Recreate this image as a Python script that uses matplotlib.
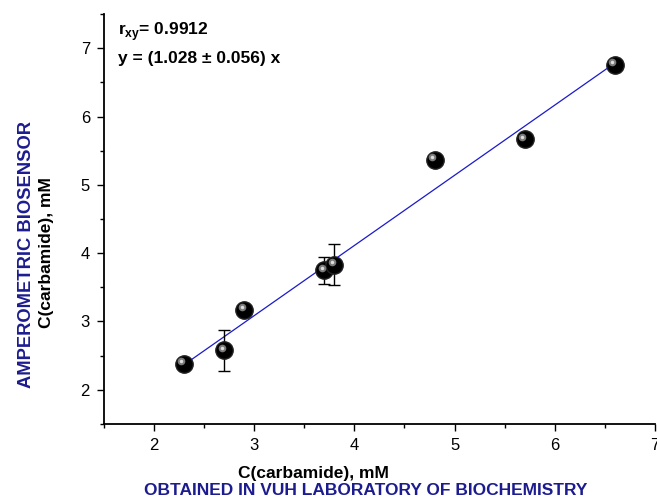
import matplotlib
matplotlib.use('Agg')
import matplotlib.pyplot as plt
import matplotlib.transforms as mtransforms
from matplotlib.ticker import MultipleLocator
import numpy as np

plt.rcParams['font.family'] = ['Liberation Sans', 'DejaVu Sans']

# reference method vs. biosensor, mM
c_reference = [2.3, 2.7, 2.9, 3.7, 3.8, 4.8, 5.7, 6.6]
c_sensor = [2.38, 2.58, 3.17, 3.75, 3.83, 5.37, 5.67, 6.76]
c_sensor_err = [0.07, 0.30, 0.07, 0.20, 0.30, 0.07, 0.07, 0.07]
slope = 1.028
slope_err = 0.056
r_xy = 0.9912

navy = '#1c1c8f'

fig = plt.figure(figsize=(6.57, 5.04), dpi=100)
ax = fig.add_axes([0.158, 0.159, 0.839, 0.813])

# fitted line through the origin
x_fit = np.array([min(c_reference), max(c_reference)])
ax.plot(x_fit, slope * x_fit, color='#1a1acc', lw=0.9, zorder=2)

ax.errorbar(c_reference, c_sensor, yerr=c_sensor_err, fmt='none', ecolor='black',
            elinewidth=1.0, capsize=4, capthick=1.0, zorder=3)

# shaded ball markers: dark body + offset highlight
ax.plot(c_reference, c_sensor, 'o', ms=12.5, color='black', mec='#222222', zorder=4)
shift = mtransforms.ScaledTranslation(-1.8 / 72, 1.8 / 72, fig.dpi_scale_trans)
ax.plot(c_reference, c_sensor, 'o', ms=5.5, color='#7a7a7a', mew=0,
        transform=ax.transData + shift, zorder=5)
ax.plot(c_reference, c_sensor, 'o', ms=2.5, color='#dddddd', mew=0,
        transform=ax.transData + shift, zorder=6)

ax.set_xlim(1.5, 7.0)
ax.set_ylim(1.5, 7.5)
ax.xaxis.set_minor_locator(MultipleLocator(0.5))
ax.yaxis.set_minor_locator(MultipleLocator(0.5))
ax.set_xticks([2, 3, 4, 5, 6, 7])
ax.set_yticks([2, 3, 4, 5, 6, 7])

ax.spines['top'].set_visible(False)
ax.spines['right'].set_visible(False)
for s in ('left', 'bottom'):
    ax.spines[s].set_linewidth(1.3)
ax.tick_params(which='major', direction='out', length=5, width=1.0, labelsize=12, pad=5)
ax.tick_params(which='minor', direction='out', length=3, width=1.0)

ax.text(0.025, 0.985, r'r$_{\mathregular{xy}}$= %.4f' % r_xy, transform=ax.transAxes,
        fontsize=12.5, fontweight='bold', va='top', ha='left')
ax.text(0.025, 0.91, 'y = (%.3f \u00b1 %.3f) x' % (slope, slope_err), transform=ax.transAxes,
        fontsize=12.5, fontweight='bold', va='top', ha='left')

fig.text(0.477, 0.061, 'C(carbamide), mM', fontsize=12.5, fontweight='bold', ha='center', va='center')
fig.text(0.556, 0.026, 'OBTAINED IN VUH LABORATORY OF BIOCHEMISTRY', fontsize=12.5,
         fontweight='bold', color=navy, ha='center', va='center')
fig.text(0.071, 0.498, 'C(carbamide), mM', fontsize=12.5, fontweight='bold',
         rotation=90, ha='center', va='center')
fig.text(0.040, 0.496, 'AMPEROMETRIC BIOSENSOR', fontsize=13.2, fontweight='bold', color=navy,
         rotation=90, ha='center', va='center')

fig.savefig('out.png', dpi=100)
